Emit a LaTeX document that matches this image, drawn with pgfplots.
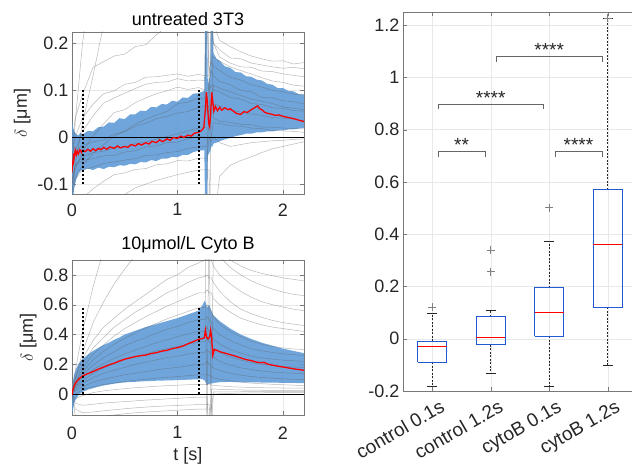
\documentclass[border=0pt]{standalone}
\usepackage{pgfplots}
\pgfplotsset{compat=1.18}
\usepackage{pgfplotstable}
\usepgfplotslibrary{fillbetween}
\usepackage{fontspec}
\setmainfont{Liberation Sans}
\definecolor{bandblue}{RGB}{95,155,215}
\definecolor{boxblue}{RGB}{30,90,210}
\definecolor{axgray}{RGB}{120,120,120}
\definecolor{txt}{RGB}{38,38,38}

\pgfplotstableread{
t     c1    c2    c3    c4    c5    c6    c7     c8     c9     c10    c11    c12    c13
0     -0.06 -0.10 -0.02 -0.08 -0.10 -0.11  -0.12  -0.13  -0.16  -0.20  -0.05  -0.09  -0.04
0.03  0.03  -0.06 0.04  -0.03 -0.07 -0.085 -0.06  -0.09  -0.15  -0.20  -0.03  -0.06  0.0
0.1   0.20  0.03  0.09  0.012 -0.03 -0.06  -0.042 -0.07  -0.13  -0.19  -0.018 -0.05  0.04
0.2   0.35  0.13  0.148 0.045 0.002 -0.035 -0.033 -0.064 -0.11  -0.17  -0.010 -0.046 0.07
0.3   0.40  0.24  0.160 0.072 0.028 -0.016 -0.030 -0.056 -0.094 -0.15  -0.006 -0.040 0.092
0.4   0.40  0.35  0.172 0.083 0.052 0.002  -0.024 -0.053 -0.080 -0.135 0.006  -0.039 0.098
0.5   0.40  0.40  0.176 0.093 0.058 0.013  -0.021 -0.049 -0.076 -0.122 0.011  -0.032 0.112
0.6   0.40  0.40  0.192 0.103 0.073 0.027  -0.014 -0.046 -0.069 -0.108 0.023  -0.029 0.116
0.7   0.40  0.40  0.196 0.112 0.083 0.038  -0.011 -0.039 -0.067 -0.100 0.029  -0.021 0.127
0.8   0.40  0.40  0.217 0.116 0.092 0.047  -0.004 -0.038 -0.059 -0.092 0.039  -0.019 0.128
0.9   0.40  0.40  0.235 0.117 0.098 0.054  0.001  -0.033 -0.057 -0.086 0.044  -0.012 0.131
1.0   0.40  0.40  0.26  0.124 0.106 0.071  0.007  -0.031 -0.050 -0.080 0.051  -0.011 0.134
1.1   0.40  0.40  0.28  0.119 0.101 0.074  0.013  -0.024 -0.051 -0.075 0.054  -0.004 0.129
1.2   0.40  0.40  0.30  0.121 0.105 0.083  0.019  -0.021 -0.045 -0.070 0.063  0.001  0.133
1.26  0.40  0.40  0.30  0.12  0.10  0.08   0.02   -0.02  -0.045 -0.07  0.065  0.0    0.13
1.28  0.40  0.40  0.30  0.25  0.05  0.40   0.02   -0.02  -0.045 -0.07  0.065  0.0    0.13
1.30  0.40  0.30  0.30  0.14  0.12  0.10   -0.30  0.03   0.0    -0.07  0.065  0.0    0.13
1.32  0.35  0.30  0.25  0.16  0.14  0.11   0.08   0.30   -0.01  -0.30  0.065  0.0    0.17
1.34  0.24  0.20  0.20  0.15  0.13  0.10   0.07   0.04   0.0    -0.20  0.11   0.03   0.17
1.4   0.205 0.185 0.170 0.141 0.118 0.096  0.066  0.034  -0.012 -0.083 0.104  0.029  0.161
1.5   0.192 0.168 0.157 0.127 0.111 0.084  0.057  0.031  -0.020 -0.060 0.096  0.024  0.149
1.6   0.181 0.166 0.149 0.121 0.099 0.081  0.053  0.027  -0.016 -0.050 0.088  0.023  0.141
1.7   0.172 0.157 0.148 0.111 0.096 0.071  0.049  0.026  -0.012 -0.042 0.081  0.019  0.134
1.8   0.166 0.153 0.140 0.106 0.084 0.069  0.046  0.021  -0.010 -0.033 0.076  0.018  0.126
1.9   0.161 0.149 0.139 0.099 0.083 0.062  0.041  0.021  -0.008 -0.025 0.071  0.014  0.119
2.0   0.162 0.146 0.134 0.096 0.077 0.061  0.040  0.019  -0.007 -0.020 0.064  0.013  0.116
2.1   0.155 0.148 0.131 0.091 0.075 0.056  0.038  0.018  -0.005 -0.015 0.061  0.012  0.110
2.2   0.158 0.145 0.128 0.090 0.070 0.055  0.035  0.017  -0.004 -0.010 0.058  0.010  0.108
}\topgray

\pgfplotstableread{
t     up     lo
0     0.035  -0.14
0.01  0.020  -0.13
0.02  0.012  -0.11
0.04  0.006  -0.09
0.06  0.003  -0.078
0.08  0.009  -0.072
0.1   0.005  -0.070
0.15  0.013  -0.067
0.2   0.012  -0.070
0.25  0.021  -0.065
0.3   0.022  -0.068
0.35  0.031  -0.063
0.4   0.030  -0.064
0.45  0.040  -0.060
0.5   0.038  -0.061
0.55  0.048  -0.057
0.6   0.048  -0.058
0.65  0.056  -0.053
0.7   0.055  -0.054
0.75  0.064  -0.049
0.8   0.063  -0.051
0.85  0.070  -0.046
0.9   0.069  -0.046
0.95  0.077  -0.042
1.0   0.075  -0.043
1.05  0.084  -0.038
1.1   0.083  -0.038
1.15  0.092  -0.032
1.2   0.093  -0.029
1.255 0.098  -0.028
1.265 0.30   -0.20
1.278 0.30   -0.20
1.288 0.11   -0.04
1.31  0.13   -0.03
1.322 0.30   -0.02
1.332 0.30   -0.02
1.342 0.178  -0.014
1.37  0.166  -0.012
1.4   0.162  -0.009
1.45  0.150  -0.005
1.5   0.147  -0.002
1.55  0.138  0.002
1.6   0.137  0.004
1.65  0.129  0.007
1.7   0.128  0.007
1.75  0.122  0.010
1.8   0.120  0.010
1.85  0.113  0.012
1.9   0.111  0.012
1.95  0.104  0.014
2.0   0.104  0.014
2.05  0.098  0.016
2.1   0.097  0.016
2.15  0.091  0.018
2.2   0.090  0.019
}\topband

\pgfplotstableread{
t     v
0     -0.075
0.005 -0.05
0.01  -0.06
0.015 -0.035
0.02  -0.045
0.03  -0.028
0.04  -0.038
0.05  -0.030
0.06  -0.036
0.075 -0.027
0.09  -0.033
0.1   -0.028
0.125 -0.031
0.15  -0.026
0.175 -0.030
0.2   -0.025
0.225 -0.029
0.25  -0.024
0.275 -0.027
0.3   -0.022
0.33  -0.026
0.36  -0.021
0.4   -0.024
0.43  -0.019
0.46  -0.023
0.5   -0.020
0.53  -0.022
0.56  -0.016
0.6   -0.019
0.63  -0.014
0.66  -0.017
0.7   -0.012
0.73  -0.015
0.76  -0.009
0.8   -0.012
0.83  -0.006
0.86  -0.010
0.9   -0.004
0.93  -0.007
0.96  -0.001
1.0   -0.003
1.03  0.002
1.06  -0.001
1.1   0.004
1.13  0.002
1.16  0.008
1.2   0.010
1.23  0.014
1.25  0.020
1.265 0.060
1.275 0.095
1.285 0.070
1.295 0.030
1.305 0.022
1.315 0.050
1.325 0.095
1.335 0.075
1.345 0.055
1.36  0.065
1.38  0.056
1.4   0.063
1.42  0.057
1.45  0.062
1.48  0.058
1.5   0.060
1.53  0.055
1.56  0.050
1.6   0.048
1.63  0.054
1.66  0.052
1.7   0.058
1.73  0.062
1.76  0.066
1.78  0.060
1.8   0.058
1.83  0.052
1.86  0.050
1.9   0.048
1.93  0.046
1.96  0.047
2.0   0.044
2.04  0.042
2.08  0.040
2.12  0.038
2.16  0.035
2.2   0.033
}\topmean

\pgfplotstableread{
t     b1    b2    b3    b4    b5    b6    b7    b8    b9    b10   b11   b12   b13    b14    b15    b16
0     0     0     0     0     0     0     0     0     0     0     0     0     0      0      0      0
0.03  0.15  0.10  0.10  0.08  0.07  0.06  0.05  0.045 0.04  0.03  0.02  0.0   -0.03  -0.06  -0.10  -0.14
0.1   0.42  0.28  0.24  0.20  0.17  0.15  0.13  0.11  0.09  0.075 0.05  0.03  -0.01  -0.075 -0.125 -0.17
0.2   0.72  0.48  0.36  0.31  0.27  0.23  0.195 0.165 0.14  0.11  0.08  0.05  0.01   -0.068 -0.12  -0.16
0.3   0.97  0.62  0.45  0.38  0.33  0.29  0.245 0.205 0.175 0.14  0.10  0.065 0.022  -0.06  -0.112 -0.15
0.4   1.2   0.74  0.51  0.45  0.39  0.335 0.285 0.24  0.205 0.16  0.115 0.075 0.03   -0.055 -0.105 -0.14
0.5   1.3   0.84  0.57  0.50  0.44  0.375 0.325 0.27  0.23  0.18  0.13  0.085 0.037  -0.05  -0.098 -0.132
0.6   1.3   0.93  0.62  0.55  0.48  0.41  0.355 0.295 0.25  0.20  0.14  0.093 0.043  -0.045 -0.092 -0.125
0.7   1.3   1.0   0.67  0.59  0.52  0.445 0.38  0.32  0.27  0.215 0.152 0.10  0.048  -0.04  -0.087 -0.12
0.8   1.3   1.1   0.72  0.635 0.555 0.475 0.41  0.345 0.29  0.23  0.163 0.107 0.053  -0.036 -0.082 -0.116
0.9   1.3   1.2   0.77  0.68  0.59  0.505 0.435 0.365 0.305 0.245 0.172 0.113 0.057  -0.032 -0.079 -0.112
1.0   1.3   1.2   0.80  0.71  0.62  0.53  0.455 0.385 0.32  0.255 0.18  0.118 0.06   -0.028 -0.076 -0.108
1.1   1.3   1.2   0.85  0.75  0.65  0.555 0.48  0.405 0.335 0.268 0.19  0.124 0.063  -0.024 -0.073 -0.104
1.2   1.3   1.2   0.88  0.78  0.68  0.58  0.50  0.42  0.35  0.28  0.20  0.13  0.065  -0.02  -0.07  -0.10
1.26  1.3   1.2   0.90  0.79  0.68  0.58  0.50  0.42  0.35  0.28  0.20  0.13  0.065  -0.02  -0.07  -0.10
1.28  -0.3  1.2   0.90  0.80  0.70  0.60  0.52  0.45  0.38  0.30  0.22  0.13  0.065  -0.02  -0.07  -0.10
1.30  1.3   1.2   0.95  0.78  0.68  0.58  0.50  0.42  0.35  0.28  0.20  0.13  0.07   -0.3   -0.07  -0.10
1.32  1.3   -0.3  0.90  0.78  0.68  0.56  0.48  0.40  0.34  0.27  0.19  0.12  0.06   0.03   -0.3   -0.10
1.34  1.2   0.98  0.86  0.75  0.64  0.52  0.44  0.37  0.31  0.25  0.175 0.11  0.06   0.035  0.015  0.0
1.4   1.0   0.92  0.80  0.69  0.60  0.47  0.40  0.335 0.28  0.22  0.16  0.10  0.055  0.032  0.015  0.003
1.5   0.90  0.85  0.74  0.62  0.55  0.42  0.36  0.30  0.25  0.195 0.14  0.09  0.05   0.03   0.016  0.005
1.6   0.86  0.80  0.69  0.57  0.51  0.385 0.33  0.275 0.228 0.177 0.128 0.08  0.047  0.028  0.016  0.007
1.7   0.83  0.76  0.65  0.54  0.485 0.355 0.305 0.255 0.212 0.165 0.118 0.074 0.045  0.027  0.017  0.008
1.8   0.81  0.73  0.62  0.515 0.465 0.335 0.29  0.243 0.20  0.155 0.112 0.07  0.043  0.026  0.017  0.009
1.9   0.795 0.705 0.60  0.495 0.45  0.32  0.28  0.235 0.192 0.148 0.107 0.066 0.042  0.025  0.018  0.01
2.0   0.78  0.685 0.585 0.48  0.44  0.31  0.27  0.228 0.186 0.143 0.103 0.063 0.041  0.025  0.018  0.01
2.1   0.77  0.67  0.57  0.47  0.43  0.303 0.265 0.224 0.182 0.14  0.10  0.06  0.04   0.024  0.018  0.01
2.2   0.76  0.66  0.56  0.46  0.42  0.30  0.26  0.22  0.18  0.138 0.098 0.058 0.04   0.024  0.018  0.01
}\botgray

\pgfplotstableread{
t     up     lo
0     0.03   -0.14
0.01  0.09   -0.10
0.02  0.13   -0.06
0.04  0.17   -0.03
0.06  0.20   -0.01
0.08  0.22   0.005
0.1   0.235  0.015
0.15  0.265  0.03
0.2   0.29   0.04
0.25  0.31   0.05
0.3   0.33   0.058
0.35  0.345  0.064
0.4   0.365  0.07
0.45  0.38   0.075
0.5   0.40   0.079
0.6   0.425  0.083
0.7   0.45   0.087
0.8   0.47   0.09
0.9   0.49   0.092
1.0   0.51   0.094
1.1   0.535  0.097
1.2   0.56   0.10
1.24  0.60   0.10
1.26  0.63   0.09
1.28  0.58   0.06
1.30  0.60   0.07
1.32  0.56   0.07
1.34  0.53   0.075
1.4   0.49   0.08
1.5   0.44   0.082
1.6   0.40   0.08
1.7   0.37   0.079
1.8   0.345  0.078
1.9   0.325  0.077
2.0   0.305  0.076
2.1   0.29   0.075
2.2   0.275  0.074
}\botband

\pgfplotstableread{
t     v
0     -0.005
0.01  0.035
0.02  0.055
0.03  0.07
0.05  0.09
0.07  0.105
0.1   0.122
0.13  0.132
0.16  0.14
0.2   0.152
0.25  0.168
0.3   0.182
0.35  0.196
0.4   0.208
0.45  0.222
0.5   0.235
0.55  0.243
0.6   0.252
0.65  0.258
0.7   0.262
0.75  0.272
0.8   0.278
0.85  0.288
0.9   0.294
0.95  0.305
1.0   0.312
1.05  0.322
1.1   0.338
1.15  0.352
1.2   0.368
1.23  0.372
1.255 0.378
1.265 0.43
1.275 0.385
1.29  0.37
1.305 0.385
1.315 0.43
1.325 0.37
1.335 0.26
1.35  0.30
1.37  0.295
1.4   0.285
1.45  0.275
1.5   0.265
1.55  0.255
1.6   0.243
1.65  0.232
1.7   0.225
1.75  0.215
1.8   0.21
1.82  0.214
1.85  0.203
1.9   0.195
1.95  0.188
2.0   0.182
2.05  0.176
2.1   0.17
2.15  0.165
2.2   0.16
}\botmean

\pgfplotsset{
  every axis/.append style={
    scale only axis, anchor=south west,
    axis line style={axgray}, tick style={axgray}, major tick length=4pt,
    grid=major, grid style={gray!18},
    tick label style={font=\fontsize{18}{21}\selectfont, text=txt},
    /pgf/number format/assume math mode=true,
    label style={font=\fontsize{18}{21}\selectfont, text=txt},
    title style={font=\fontsize{18}{21}\selectfont, text=black, yshift=-3pt},
  },
  gl/.style={black!62, opacity=0.45, line width=0.5pt},
  mn/.style={red, line width=1.3pt},
  dl/.style={black, line width=2pt, dash pattern=on 2pt off 2pt},
  bx/.style={boxblue, line width=1pt},
  md/.style={red, line width=1pt},
  wk/.style={black!85, line width=0.6pt, dash pattern=on 2pt off 1.5pt},
  cp/.style={black!85, line width=0.7pt},
  ol/.style={only marks, mark=+, mark size=4pt, mark options={draw=gray, line width=0.6pt}},
  br/.style={black!60, line width=0.8pt},
}

\begin{document}
\begin{tikzpicture}
% ---------- top left ----------
\begin{axis}[at={(72pt,270pt)}, width=232pt, height=162pt,
  xmin=0, xmax=2.2, ymin=-0.121, ymax=0.223,
  xtick={0,1,2}, ytick={-0.1,0,0.1,0.2},
  xticklabel style={yshift=-6pt},
  title={untreated 3T3}, ylabel={$\delta$ [μm]}]
\addplot[name path=tu, draw=none] table[x=t,y=up]{\topband};
\addplot[name path=tl, draw=none] table[x=t,y=lo]{\topband};
\addplot[fill=bandblue, fill opacity=0.9, draw=none] fill between[of=tu and tl];
\pgfplotsinvokeforeach{1,...,13}{\addplot[gl] table[x=t,y=c#1]{\topgray};}
\addplot[black, line width=0.6pt] coordinates {(0,0) (2.2,0)};
\addplot[mn] table[x=t,y=v]{\topmean};
\addplot[dl] coordinates {(0.1,-0.1) (0.1,0.1)};
\addplot[dl] coordinates {(1.2,-0.1) (1.2,0.1)};
\end{axis}
% ---------- bottom left ----------
\begin{axis}[at={(72pt,49pt)}, width=232pt, height=155pt,
  xmin=0, xmax=2.2, ymin=-0.14, ymax=0.9,
  xtick={0,1,2}, ytick={0,0.2,0.4,0.6,0.8},
  xticklabel style={yshift=-8pt},
  title={10μmol/L Cyto B}, ylabel={$\delta$ [μm]}, xlabel={t [s]},
  xlabel style={yshift=-1pt}]
\addplot[name path=bu, draw=none] table[x=t,y=up]{\botband};
\addplot[name path=bl, draw=none] table[x=t,y=lo]{\botband};
\addplot[fill=bandblue, fill opacity=0.9, draw=none] fill between[of=bu and bl];
\pgfplotsinvokeforeach{1,...,16}{\addplot[gl] table[x=t,y=b#1]{\botgray};}
\addplot[black, line width=0.6pt] coordinates {(0,0) (2.2,0)};
\addplot[mn] table[x=t,y=v]{\botmean};
\addplot[dl] coordinates {(0.1,0) (0.1,0.58)};
\addplot[dl] coordinates {(1.2,0) (1.2,0.58)};
\end{axis}
% ---------- right: box plot ----------
\begin{axis}[at={(403pt,73pt)}, width=234pt, height=379pt,
  xmin=0.5, xmax=4.5, ymin=-0.2, ymax=1.25,
  xtick={1,2,3,4}, xticklabels={control 0.1s, control 1.2s, cytoB 0.1s, cytoB 1.2s},
  xticklabel style={xshift=8pt, yshift=-3pt, rotate=30, anchor=north east, font=\fontsize{19}{22}\selectfont},
  ytick={-0.2,0,0.2,0.4,0.6,0.8,1,1.2}]
% whiskers
\addplot[wk] coordinates {(1,-0.009) (1,0.096)};
\addplot[wk] coordinates {(1,-0.090) (1,-0.182)};
\addplot[wk] coordinates {(2,0.085) (2,0.108)};
\addplot[wk] coordinates {(2,-0.024) (2,-0.131)};
\addplot[wk] coordinates {(3,0.195) (3,0.372)};
\addplot[wk] coordinates {(3,0.009) (3,-0.183)};
\addplot[wk] coordinates {(4,0.570) (4,1.226)};
\addplot[wk] coordinates {(4,0.121) (4,-0.102)};
% whisker caps
\addplot[cp] coordinates {(0.915,0.096) (1.085,0.096)};
\addplot[cp] coordinates {(0.915,-0.182) (1.085,-0.182)};
\addplot[cp] coordinates {(1.915,0.108) (2.085,0.108)};
\addplot[cp] coordinates {(1.915,-0.131) (2.085,-0.131)};
\addplot[cp] coordinates {(2.915,0.372) (3.085,0.372)};
\addplot[cp] coordinates {(2.915,-0.183) (3.085,-0.183)};
\addplot[cp] coordinates {(3.915,1.226) (4.085,1.226)};
\addplot[cp] coordinates {(3.915,-0.102) (4.085,-0.102)};
% boxes
\addplot[bx] coordinates {(0.75,-0.090) (1.25,-0.090) (1.25,-0.009) (0.75,-0.009) (0.75,-0.090)};
\addplot[bx] coordinates {(1.75,-0.024) (2.25,-0.024) (2.25,0.085) (1.75,0.085) (1.75,-0.024)};
\addplot[bx] coordinates {(2.75,0.009) (3.25,0.009) (3.25,0.195) (2.75,0.195) (2.75,0.009)};
\addplot[bx] coordinates {(3.75,0.121) (4.25,0.121) (4.25,0.570) (3.75,0.570) (3.75,0.121)};
% medians
\addplot[md] coordinates {(0.75,-0.031) (1.25,-0.031)};
\addplot[md] coordinates {(1.75,0.005) (2.25,0.005)};
\addplot[md] coordinates {(2.75,0.099) (3.25,0.099)};
\addplot[md] coordinates {(3.75,0.359) (4.25,0.359)};
% outliers
\addplot[ol] coordinates {(1,0.121) (2,0.257) (2,0.340) (3,0.502) (4,1.226)};
% significance brackets
\addplot[br] coordinates {(1.1,0.696) (1.1,0.718) (1.9,0.718) (1.9,0.696)};
\addplot[br] coordinates {(1.1,0.877) (1.1,0.897) (2.9,0.897) (2.9,0.877)};
\addplot[br] coordinates {(2.1,1.058) (2.1,1.080) (3.9,1.080) (3.9,1.058)};
\addplot[br] coordinates {(3.1,0.696) (3.1,0.718) (3.9,0.718) (3.9,0.696)};
\node[anchor=base, font=\fontsize{19}{20}\selectfont, text=txt] at (axis cs:1.5,0.716) {**};
\node[anchor=base, font=\fontsize{19}{20}\selectfont, text=txt] at (axis cs:2.0,0.895) {****};
\node[anchor=base, font=\fontsize{19}{20}\selectfont, text=txt] at (axis cs:3.0,1.078) {****};
\node[anchor=base, font=\fontsize{19}{20}\selectfont, text=txt] at (axis cs:3.5,0.716) {****};
\end{axis}
\pgfresetboundingbox
\path[use as bounding box] (0pt,0pt) rectangle (632pt,464pt);
\end{tikzpicture}
\end{document}
